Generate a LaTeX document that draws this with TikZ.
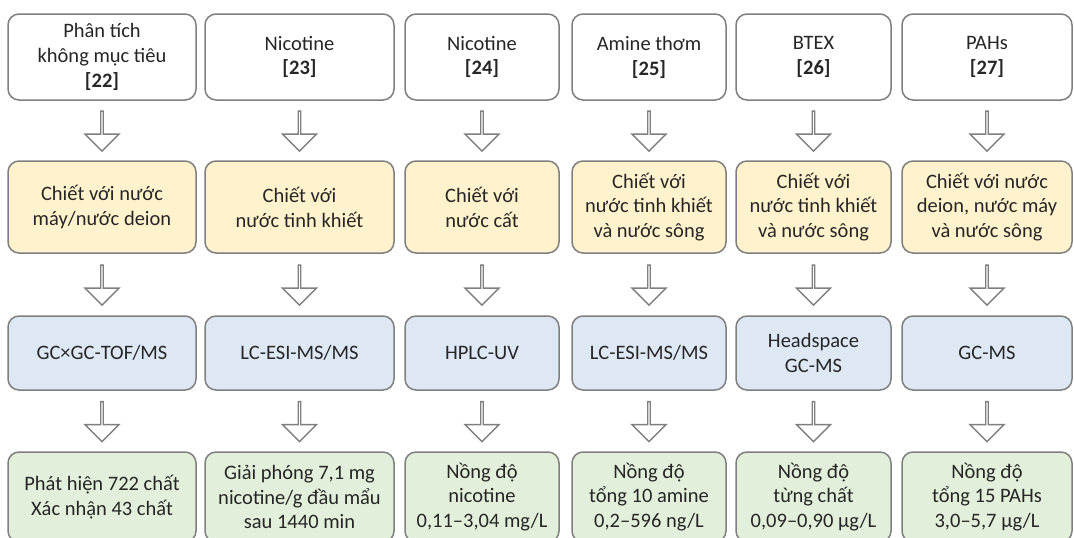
\documentclass[tikz,border=0pt]{standalone}
\usepackage{fontspec}
\setmainfont{Carlito}
\usepackage{tikz}
\usetikzlibrary{shapes.arrows, calc}
\usepackage{xcolor}
\definecolor{edgegray}{HTML}{7F7F7F}
\definecolor{txtgray}{HTML}{262626}
\definecolor{topicfill}{HTML}{FFFFFF}
\definecolor{extrfill}{HTML}{FFF2CC}
\definecolor{methfill}{HTML}{DEE8F5}
\definecolor{resfill}{HTML}{E2EFDA}

\begin{document}
\begin{tikzpicture}[
  x=1pt, y=-1pt,
  font=\fontsize{20.5}{24.8}\selectfont, text=txtgray,
  box/.style={draw=edgegray, line width=1.5pt, rounded corners=11pt,
              align=center, inner sep=0pt},
  topic/.style={box, fill=topicfill, minimum height=86pt},
  extr/.style={box, fill=extrfill, minimum height=92pt},
  meth/.style={box, fill=methfill, minimum height=74pt},
  res/.style={box, fill=resfill, minimum height=90pt},
  downarr/.style={shape=single arrow, draw=edgegray, fill=white,
                  line width=1.3pt, shape border rotate=270, inner sep=0pt,
                  minimum height=40pt, minimum width=34pt,
                  single arrow head extend=8.5pt, single arrow tip angle=90}
]
\useasboundingbox (0,0) rectangle (1074,538);

%% Row 1: compounds + reference
\node[topic, minimum width=188pt] (t22) at (102,57)   {Phân tích\\không mục tiêu\\\textbf{[22]}};
\node[topic, minimum width=189pt] (t23) at (299.5,57) {Nicotine\\\textbf{[23]}};
\node[topic, minimum width=154pt] (t24) at (482,57)   {Nicotine\\\textbf{[24]}};
\node[topic, minimum width=154pt] (t25) at (649,57)   {Amine thơm\\\textbf{[25]}};
\node[topic, minimum width=155pt] (t26) at (813.5,57) {BTEX\\\textbf{[26]}};
\node[topic, minimum width=170pt] (t27) at (987,57)   {PAHs\\\textbf{[27]}};

%% Row 2: extraction
\node[extr, minimum width=188pt] (e22) at (102,207)   {Chiết với nước\\máy/nước deion};
\node[extr, minimum width=189pt] (e23) at (299.5,207) {Chiết với\\nước tinh khiết};
\node[extr, minimum width=154pt] (e24) at (482,207)   {Chiết với\\nước cất};
\node[extr, minimum width=154pt] (e25) at (649,207)   {Chiết với\\nước tinh khiết\\và nước sông};
\node[extr, minimum width=155pt] (e26) at (813.5,207) {Chiết với\\nước tinh khiết\\và nước sông};
\node[extr, minimum width=170pt] (e27) at (987,207)   {Chiết với nước\\deion, nước máy\\và nước sông};

%% Row 3: analytical method
\node[meth, minimum width=188pt] (m22) at (102,353)   {GC×GC-TOF/MS};
\node[meth, minimum width=189pt] (m23) at (299.5,353) {LC-ESI-MS/MS};
\node[meth, minimum width=154pt] (m24) at (482,353)   {HPLC-UV};
\node[meth, minimum width=154pt] (m25) at (649,353)   {LC-ESI-MS/MS};
\node[meth, minimum width=155pt] (m26) at (813.5,353) {Headspace\\GC-MS};
\node[meth, minimum width=170pt] (m27) at (987,353)   {GC-MS};

%% Row 4: results
\node[res, minimum width=188pt] (r22) at (102,497)   {Phát hiện 722 chất\\Xác nhận 43 chất};
\node[res, minimum width=189pt] (r23) at (299.5,497) {Giải phóng 7,1 mg\\nicotine/g đầu mẩu\\sau 1440 min};
\node[res, minimum width=154pt] (r24) at (482,497)   {Nồng độ\\nicotine\\0,11–3,04 mg/L};
\node[res, minimum width=154pt] (r25) at (649,497)   {Nồng độ\\tổng 10 amine\\0,2–596 ng/L};
\node[res, minimum width=155pt] (r26) at (813.5,497) {Nồng độ\\từng chất\\0,09–0,90 µg/L};
\node[res, minimum width=170pt] (r27) at (987,497)   {Nồng độ\\tổng 15 PAHs\\3,0–5,7 µg/L};

%% block arrows between rows
\node[downarr] (a22a) at ($(t22.south)!0.5!(e22.north)$) {};
\node[downarr] (a23a) at ($(t23.south)!0.5!(e23.north)$) {};
\node[downarr] (a24a) at ($(t24.south)!0.5!(e24.north)$) {};
\node[downarr] (a25a) at ($(t25.south)!0.5!(e25.north)$) {};
\node[downarr] (a26a) at ($(t26.south)!0.5!(e26.north)$) {};
\node[downarr] (a27a) at ($(t27.south)!0.5!(e27.north)$) {};

\node[downarr] (a22b) at ($(e22.south)!0.5!(m22.north)$) {};
\node[downarr] (a23b) at ($(e23.south)!0.5!(m23.north)$) {};
\node[downarr] (a24b) at ($(e24.south)!0.5!(m24.north)$) {};
\node[downarr] (a25b) at ($(e25.south)!0.5!(m25.north)$) {};
\node[downarr] (a26b) at ($(e26.south)!0.5!(m26.north)$) {};
\node[downarr] (a27b) at ($(e27.south)!0.5!(m27.north)$) {};

\node[downarr] (a22c) at ($(m22.south)!0.5!(r22.north)$) {};
\node[downarr] (a23c) at ($(m23.south)!0.5!(r23.north)$) {};
\node[downarr] (a24c) at ($(m24.south)!0.5!(r24.north)$) {};
\node[downarr] (a25c) at ($(m25.south)!0.5!(r25.north)$) {};
\node[downarr] (a26c) at ($(m26.south)!0.5!(r26.north)$) {};
\node[downarr] (a27c) at ($(m27.south)!0.5!(r27.north)$) {};

\end{tikzpicture}
\end{document}
